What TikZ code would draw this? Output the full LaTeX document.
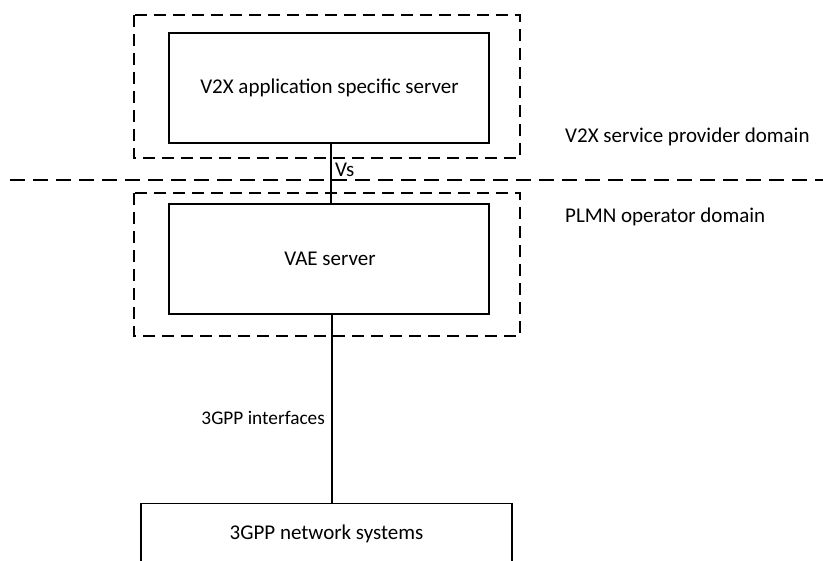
\documentclass[tikz,border=0pt]{standalone}
\usepackage{fontspec}
\setmainfont{Carlito}
\begin{document}
\begin{tikzpicture}[x=1pt,y=-1pt,
  box/.style={draw, line width=1.3pt, rectangle, inner sep=0pt},
  dombox/.style={draw, line width=1.3pt, dash pattern=on 12pt off 7pt},
  sepline/.style={draw, line width=1.6pt, dash pattern=on 15pt off 8pt},
  lbl/.style={font=\fontsize{21}{25}\selectfont, inner sep=0pt},
  small/.style={font=\fontsize{19.3}{23}\selectfont, inner sep=0pt},
  conn/.style={line width=1.5pt}]
\useasboundingbox (0,0) rectangle (823,561);
% domain boxes
\draw[dombox] (134,15) rectangle (520,158);
\draw[dombox] (134,193) rectangle (520,336);
% separator
\coordinate (sepL) at (10,180);
\coordinate (sepR) at (823,180);
\draw[sepline] (sepL) -- (sepR);
% servers
\node[box, minimum width=320pt, minimum height=110pt] (asas) at (329,88) {};
\node[lbl] (asastext) at (329.5,88) {V2X application specific server};
\node[box, minimum width=320pt, minimum height=110pt] (vae) at (329,259) {};
\node[lbl] (vaetext) at (330,259) {VAE server};
% 3GPP network systems (cut at the bottom)
\node[box, minimum width=371pt, minimum height=80pt, anchor=north] (net) at (326.5,503) {};
\node[lbl] (nettext) at (326.5,534) {3GPP network systems};
% connectors
\draw[conn] ([xshift=2pt]asas.south) -- ([xshift=2pt]vae.north);
\draw[conn] ([xshift=3pt]vae.south) -- ([xshift=3pt]vae.south |- net.north);
% labels
\node[lbl, anchor=base west] (vs) at (335,177) {Vs};
\node[small, anchor=base east] (gppif) at (325,425) {3GPP interfaces};
\node[lbl, anchor=base west] (spd) at (565,143) {V2X service provider domain};
\node[lbl, anchor=base west] (plmn) at (565,223) {PLMN operator domain};
\end{tikzpicture}
\end{document}
